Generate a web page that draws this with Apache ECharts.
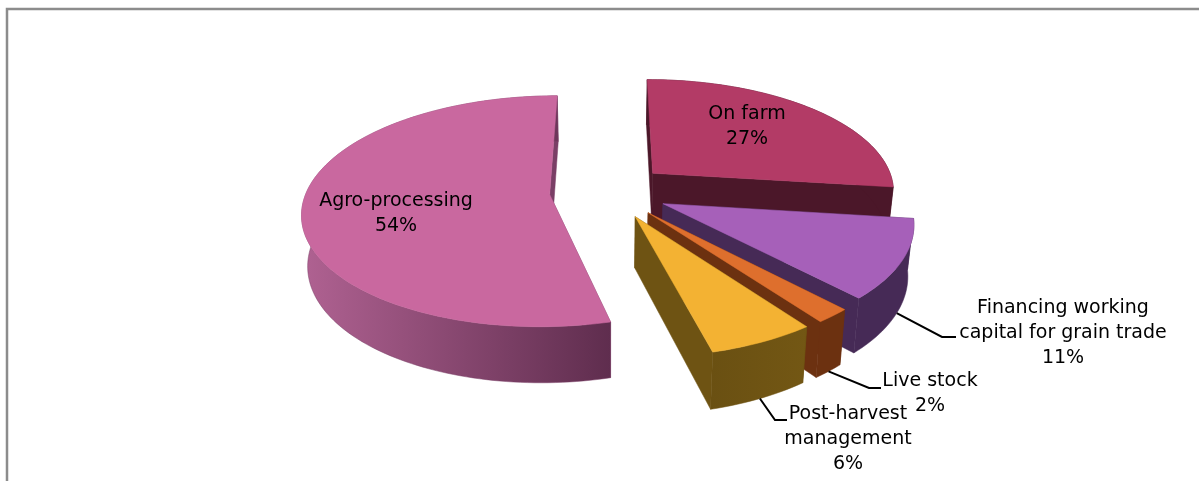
<!DOCTYPE html>
<html>
<head>
<meta charset="utf-8">
<style>html,body{margin:0;padding:0;background:#fff}#c{width:1199px;height:481px}</style>
<script src="https://cdn.jsdelivr.net/npm/echarts@6/dist/echarts.min.js"></script>
</head>
<body>
<div id="c"></div>
<script>
// Data
const categories = ['On farm', 'Financing working capital for grain trade', 'Live stock', 'Post-harvest management', 'Agro-processing'];
const values = [27, 11, 2, 6, 54];
const labelLines = [['On farm'], ['Financing working', 'capital for grain trade'], ['Live stock'], ['Post-harvest', 'management'], ['Agro-processing']];

// Styles
const topColors = ['#b33b66', '#a660b9', '#de6f2d', '#f3b233', '#c9689f'];
const wallColors = ['#4b1729', '#462a56', '#6c3110', '#6e5313', '#7a3f66'];
const outerLeft = ['#4b1729', '#462a56', '#6c3110', '#6a5012', '#b06292'];
const outerRight = ['#4b1729', '#462a56', '#6c3110', '#735714', '#5f2d4e'];

// Layout: label centres, and leader elbows (null when the label sits on the slice)
const labelCenters = [[747, 127], [1063, 333], [930, 394], [848, 439], [396, 214]];
const leaderElbows = [null, [[942, 337], [956, 337]], [[869, 388], [881, 388]], [[775, 420], [787, 420]], null];

// Projection of the exploded pie
const cx = 609, cy = 191, A = 243, B = 112, K = 0.145, EXPLODE = 0.245, DEPTH = 50, FLOOR_SHRINK = 0.98;
function project(X, Z, down) {
  const s = 1 / (1 - K * Z);
  const f = down ? FLOOR_SHRINK : 1;
  return [cx + A * X * s * f, cy + (B * Z * f + (down ? DEPTH : 0)) * s];
}
const total = values.reduce((a, b) => a + b, 0);
function deg(v) { return v / total * Math.PI * 2; }

function renderItem(params, api) {
  const i = params.dataIndex;
  let start = 0;
  for (let j = 0; j < i; j++) start += deg(values[j]);
  const sweep = deg(api.value(0));
  const end = start + sweep, mid = start + sweep / 2;
  const ox = Math.sin(mid) * EXPLODE, oz = -Math.cos(mid) * EXPLODE;
  const at = (t, down) => project(ox + Math.sin(t), oz - Math.cos(t), down);
  const apex = d => project(ox, oz, d);
  const steps = Math.max(8, Math.round(sweep * 40));
  const topArc = [], lowArc = [];
  for (let n = 0; n <= steps; n++) {
    const t = start + sweep * n / steps;
    topArc.push(at(t, false));
    lowArc.push(at(t, true));
  }
  const children = [];
  const poly = (points, fill) => children.push({
    type: 'polygon', shape: { points },
    style: { fill, stroke: typeof fill === 'string' ? fill : wallColors[i], lineWidth: 0.5 }
  });
  // radial faces
  poly([apex(false), at(start, false), at(start, true), apex(true)], wallColors[i]);
  poly([apex(false), at(end, false), at(end, true), apex(true)], wallColors[i]);
  // outer wall
  poly(topArc.concat(lowArc.slice().reverse()), new echarts.graphic.LinearGradient(0, 0, 1, 0, [
    { offset: 0, color: outerLeft[i] }, { offset: 1, color: outerRight[i] }
  ]));
  // top surface
  poly([apex(false)].concat(topArc), topColors[i]);
  // leader
  if (leaderElbows[i]) {
    children.push({
      type: 'polyline',
      shape: { points: [at(mid, true)].concat(leaderElbows[i]) },
      style: { stroke: '#000', lineWidth: 2, fill: 'none' }
    });
  }
  // label
  const lines = labelLines[i].concat([api.value(0) + '%']);
  children.push({
    type: 'text',
    style: {
      x: labelCenters[i][0], y: labelCenters[i][1],
      text: lines.join('\n'), fill: '#000',
      font: '19px "DejaVu Sans", sans-serif', lineHeight: 25,
      align: 'center', verticalAlign: 'middle'
    }
  });
  return { type: 'group', children };
}

const chart = echarts.init(document.getElementById('c'), null, { renderer: 'canvas' });
chart.setOption({
  animation: false,
  backgroundColor: '#ffffff',
  graphic: [{
    type: 'polyline', z: 0,
    shape: { points: [[7, 481], [7, 9], [1199, 9]] },
    style: { stroke: '#8c8c8c', lineWidth: 2.5, fill: 'none' }
  }],
  series: [{
    type: 'custom',
    coordinateSystem: 'none',
    renderItem,
    data: categories.map((name, k) => ({ name, value: [values[k]] }))
  }]
});
</script>
</body>
</html>
